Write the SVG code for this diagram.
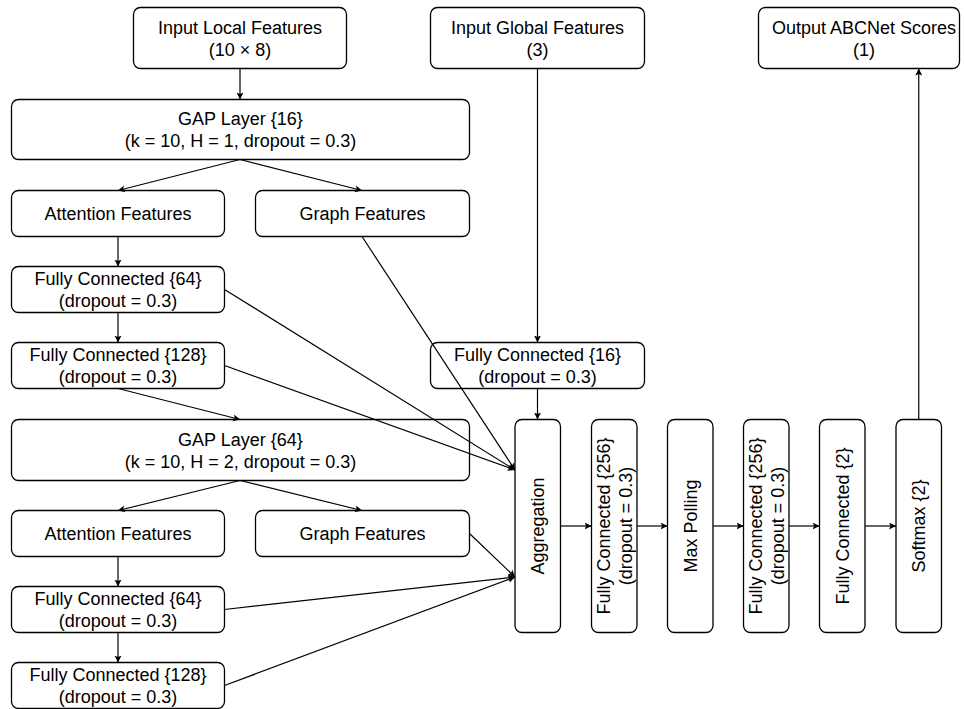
<svg xmlns="http://www.w3.org/2000/svg" width="964" height="709" viewBox="0 0 964 709">
<style>
  .box { fill: #ffffff; stroke: #000000; stroke-width: 1.3; }
  .t { font-family: "Liberation Sans", Arial, Helvetica, sans-serif; font-size: 18px; fill: #000000; text-anchor: middle; }
  .c { stroke: #000000; stroke-width: 1.2; fill: none; marker-end: url(#arr); }
</style>
<defs>
  <marker id="arr" markerUnits="userSpaceOnUse" markerWidth="8" markerHeight="8" refX="7" refY="3.5" orient="auto">
    <path d="M0,0 L7,3.5 L0,7 L1.6,3.5 z" fill="#000000"/>
  </marker>
</defs>
<rect width="964" height="709" fill="#ffffff"/>

<g id="input-local">
  <rect class="box" x="133.5" y="7.5" width="213" height="61" rx="7"/>
  <text class="t" x="240" y="33.5">Input Local Features</text>
  <text class="t" x="240" y="55.5">(10 × 8)</text>
</g>
<g id="input-global">
  <rect class="box" x="430.5" y="7.5" width="214" height="61" rx="7"/>
  <text class="t" x="537.5" y="33.5">Input Global Features</text>
  <text class="t" x="537.5" y="55.5">(3)</text>
</g>
<g id="output">
  <rect class="box" x="758.5" y="7.5" width="201" height="61" rx="7"/>
  <text class="t" x="864" y="33.5">Output ABCNet Scores</text>
  <text class="t" x="864" y="55.5">(1)</text>
</g>
<g id="gap16">
  <rect class="box" x="11.5" y="99.5" width="458" height="60" rx="7"/>
  <text class="t" x="240.5" y="125">GAP Layer {16}</text>
  <text class="t" x="240.5" y="147">(k = 10, H = 1, dropout = 0.3)</text>
</g>
<g id="attention1">
  <rect class="box" x="11.5" y="190.5" width="213" height="46" rx="7"/>
  <text class="t" x="118" y="220">Attention Features</text>
</g>
<g id="graph1">
  <rect class="box" x="255.5" y="190.5" width="214" height="46" rx="7"/>
  <text class="t" x="362.5" y="220">Graph Features</text>
</g>
<g id="fc64a">
  <rect class="box" x="11.5" y="266.5" width="213" height="46" rx="7"/>
  <text class="t" x="118" y="285">Fully Connected {64}</text>
  <text class="t" x="118" y="307">(dropout = 0.3)</text>
</g>
<g id="fc128a">
  <rect class="box" x="11.5" y="342.5" width="213" height="46" rx="7"/>
  <text class="t" x="118" y="361">Fully Connected {128}</text>
  <text class="t" x="118" y="383">(dropout = 0.3)</text>
</g>
<g id="fc16">
  <rect class="box" x="430.5" y="342.5" width="214" height="46" rx="7"/>
  <text class="t" x="537.5" y="361">Fully Connected {16}</text>
  <text class="t" x="537.5" y="383">(dropout = 0.3)</text>
</g>
<g id="gap64">
  <rect class="box" x="11.5" y="419.5" width="458" height="61" rx="7"/>
  <text class="t" x="240.5" y="445.5">GAP Layer {64}</text>
  <text class="t" x="240.5" y="467.5">(k = 10, H = 2, dropout = 0.3)</text>
</g>
<g id="attention2">
  <rect class="box" x="11.5" y="510.5" width="213" height="46" rx="7"/>
  <text class="t" x="118" y="540">Attention Features</text>
</g>
<g id="graph2">
  <rect class="box" x="255.5" y="510.5" width="214" height="46" rx="7"/>
  <text class="t" x="362.5" y="540">Graph Features</text>
</g>
<g id="fc64b">
  <rect class="box" x="11.5" y="586.5" width="213" height="46" rx="7"/>
  <text class="t" x="118" y="605">Fully Connected {64}</text>
  <text class="t" x="118" y="627">(dropout = 0.3)</text>
</g>
<g id="fc128b">
  <rect class="box" x="11.5" y="662.5" width="213" height="46" rx="7"/>
  <text class="t" x="118" y="681">Fully Connected {128}</text>
  <text class="t" x="118" y="703">(dropout = 0.3)</text>
</g>
<g id="aggregation">
  <rect class="box" x="515" y="419.5" width="45.5" height="213" rx="7"/>
  <text class="t" transform="translate(537.75,526) rotate(-90)" x="0" y="6.5">Aggregation</text>
</g>
<g id="fc256a">
  <rect class="box" x="591.5" y="419.5" width="45.5" height="213" rx="7"/>
  <text class="t" transform="translate(614.25,526) rotate(-90)" x="0" y="-4.5">Fully Connected {256}</text>
  <text class="t" transform="translate(614.25,526) rotate(-90)" x="0" y="17.5">(dropout = 0.3)</text>
</g>
<g id="maxpool">
  <rect class="box" x="667.5" y="419.5" width="45.5" height="213" rx="7"/>
  <text class="t" transform="translate(690.25,526) rotate(-90)" x="0" y="6.5">Max Polling</text>
</g>
<g id="fc256b">
  <rect class="box" x="743.5" y="419.5" width="45.5" height="213" rx="7"/>
  <text class="t" transform="translate(766.25,526) rotate(-90)" x="0" y="-4.5">Fully Connected {256}</text>
  <text class="t" transform="translate(766.25,526) rotate(-90)" x="0" y="17.5">(dropout = 0.3)</text>
</g>
<g id="fc2">
  <rect class="box" x="819.5" y="419.5" width="45.5" height="213" rx="7"/>
  <text class="t" transform="translate(842.25,526) rotate(-90)" x="0" y="6.5">Fully Connected {2}</text>
</g>
<g id="softmax">
  <rect class="box" x="896" y="419.5" width="45.5" height="213" rx="7"/>
  <text class="t" transform="translate(918.75,526) rotate(-90)" x="0" y="6.5">Softmax {2}</text>
</g>

<g id="connectors">
  <line class="c" x1="240" y1="68.5" x2="240" y2="99.5"/>
  <line class="c" x1="240" y1="159.5" x2="118" y2="190.5"/>
  <line class="c" x1="240" y1="159.5" x2="362" y2="190.5"/>
  <line class="c" x1="118" y1="236.5" x2="118" y2="266.5"/>
  <line class="c" x1="118" y1="312.5" x2="118" y2="342.5"/>
  <line class="c" x1="118" y1="388.5" x2="240" y2="419.5"/>
  <line class="c" x1="362" y1="236.5" x2="515" y2="470"/>
  <line class="c" x1="224.5" y1="289.5" x2="515" y2="470"/>
  <line class="c" x1="224.5" y1="365.5" x2="515" y2="470"/>
  <line class="c" x1="537.5" y1="68.5" x2="537.5" y2="342.5"/>
  <line class="c" x1="537.5" y1="388.5" x2="537.5" y2="419.5"/>
  <line class="c" x1="240" y1="480.5" x2="118" y2="510.5"/>
  <line class="c" x1="240" y1="480.5" x2="362" y2="510.5"/>
  <line class="c" x1="118" y1="556.5" x2="118" y2="586.5"/>
  <line class="c" x1="118" y1="632.5" x2="118" y2="662.5"/>
  <line class="c" x1="469.5" y1="533.5" x2="515" y2="577"/>
  <line class="c" x1="224.5" y1="609.5" x2="515" y2="577"/>
  <line class="c" x1="224.5" y1="685.5" x2="515" y2="577"/>
  <line class="c" x1="560.5" y1="526" x2="591.5" y2="526"/>
  <line class="c" x1="637" y1="526" x2="667.5" y2="526"/>
  <line class="c" x1="713" y1="526" x2="743.5" y2="526"/>
  <line class="c" x1="789" y1="526" x2="819.5" y2="526"/>
  <line class="c" x1="865" y1="526" x2="896" y2="526"/>
  <line class="c" x1="918.75" y1="419.5" x2="918.75" y2="68.5"/>
</g>
</svg>
